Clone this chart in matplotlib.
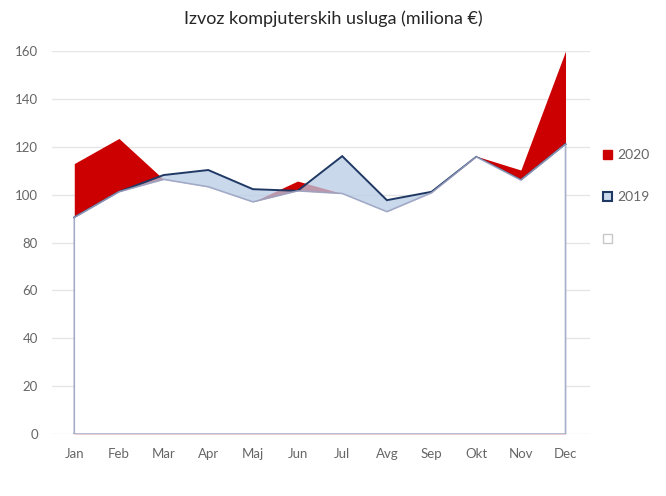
import matplotlib
matplotlib.use("Agg")
import matplotlib.pyplot as plt
from matplotlib.patches import Patch

plt.rcParams['font.family'] = ['Lato', 'DejaVu Sans']

months = ['Jan', 'Feb', 'Mar', 'Apr', 'Maj', 'Jun', 'Jul', 'Avg', 'Sep', 'Okt', 'Nov', 'Dec']
y2020 = [113.0, 123.5, 106.4, 103.3, 97.0, 105.7, 100.5, 92.9, 100.8, 116.1, 110.3, 160.0]
y2019 = [90.5, 101.2, 108.2, 110.3, 102.3, 101.6, 116.1, 97.7, 101.2, 115.8, 106.1, 121.1]
base = [90.5, 101.2, 106.4, 103.3, 97.0, 101.6, 100.5, 92.9, 100.8, 115.8, 106.1, 121.1]
yticks = [0, 20, 40, 60, 80, 100, 120, 140, 160]

RED = '#CC0000'
BLUE_FILL = '#B9CCE6'
NAVY = '#1F3864'
OUTLINE = '#9AA3C2'
GRAY = '#666666'

fig = plt.figure(figsize=(6.66, 4.96), dpi=100)
ax = fig.add_axes([0.078, 0.125, 0.808, 0.772])

x = list(range(len(months)))

ax.fill_between(x, 0, y2020, color=RED, lw=0, zorder=2)
ax.fill_between(x, 0, y2019, color=BLUE_FILL, alpha=0.75, lw=0, zorder=3)
ax.plot(x, y2019, color=NAVY, lw=1.4, zorder=4, solid_joinstyle='miter')
ax.fill_between(x, 0, base, color='white', lw=0, zorder=5)
px = [x[0]] + x + [x[-1], x[0]]
py = [0] + base + [0, 0]
ax.plot(px, py, color=OUTLINE, lw=1.2, alpha=0.85, zorder=6)

ax.set_xlim(-0.5, 11.55)
ax.set_ylim(0, 160)
ax.set_yticks(yticks)
ax.set_xticks(x)
ax.set_xticklabels(months)
ax.grid(axis='y', color='#E6E6E6', lw=1.0, zorder=0)
ax.set_axisbelow(True)
for s in ax.spines.values():
    s.set_visible(False)
ax.tick_params(axis='both', length=0, labelsize=9.5, labelcolor=GRAY)
ax.tick_params(axis='y', pad=10)
ax.tick_params(axis='x', pad=10)

fig.text(0.5, 0.963, 'Izvoz kompjuterskih usluga (miliona €)', ha='center', va='center',
         fontsize=13, color='#262626')

handles = [Patch(facecolor=RED, edgecolor=RED),
           Patch(facecolor='#CAD9EC', edgecolor=NAVY, lw=1.5),
           Patch(facecolor='white', edgecolor='#C8C8C8', lw=1.0)]
leg = fig.legend(handles, ['2020', '2019', ''], loc='upper left',
                 bbox_to_anchor=(0.895, 0.713), frameon=False, fontsize=10,
                 labelcolor=GRAY, handlelength=0.65, handleheight=0.65,
                 handletextpad=0.35, labelspacing=2.15, borderpad=0)

fig.savefig('out.png', dpi=100)
